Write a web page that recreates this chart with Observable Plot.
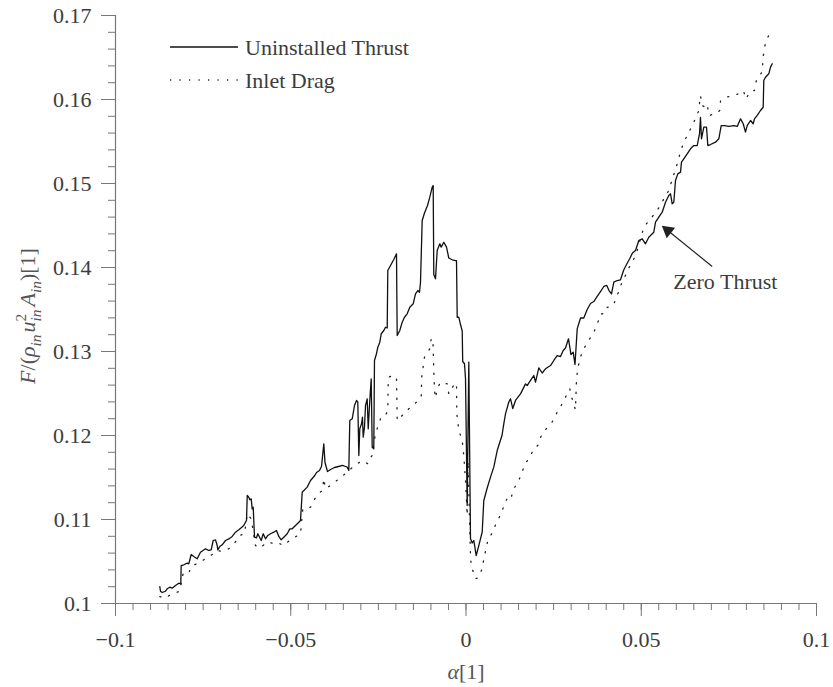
<!DOCTYPE html>
<html><head><meta charset="utf-8">
<script src="https://cdn.jsdelivr.net/npm/d3@7"></script>
<script src="https://cdn.jsdelivr.net/npm/@observablehq/plot@0.6"></script>
<style>
html,body{margin:0;padding:0;background:#fff;}
#chart svg{display:block;}
</style>
</head><body><div id="chart"></div>
<script>
// Uninstalled thrust: [alpha, F/(rho u^2 A)]
const thrustPoints = [
[-0.08736,0.10202],[-0.08716,0.10146],[-0.08668,0.10131],[-0.08573,0.10146],[-0.08525,0.10175],[-0.08451,0.10194],
[-0.08382,0.10182],[-0.08288,0.10214],[-0.08194,0.10242],[-0.08137,0.10235],[-0.08126,0.10452],[-0.08051,0.10461],
[-0.07954,0.10480],[-0.07909,0.10473],[-0.07840,0.10583],[-0.07766,0.10560],[-0.07669,0.10532],[-0.07575,0.10611],
[-0.07432,0.10651],[-0.07338,0.10631],[-0.07270,0.10639],[-0.07213,0.10750],[-0.07147,0.10758],[-0.07098,0.10690],
[-0.07081,0.10639],[-0.07024,0.10679],[-0.06956,0.10699],[-0.06862,0.10750],[-0.06767,0.10770],[-0.06719,0.10782],
[-0.06670,0.10798],[-0.06576,0.10849],[-0.06482,0.10877],[-0.06414,0.10901],[-0.06340,0.10929],[-0.06291,0.10968],
[-0.06262,0.10988],[-0.06242,0.11286],[-0.06197,0.11265],[-0.06168,0.11235],[-0.06128,0.11246],[-0.06100,0.11127],
[-0.06071,0.11146],[-0.06034,0.10789],[-0.05977,0.10782],[-0.05940,0.10830],[-0.05883,0.10782],[-0.05843,0.10750],
[-0.05786,0.10830],[-0.05720,0.10770],[-0.05655,0.10810],[-0.05578,0.10830],[-0.05484,0.10849],[-0.05407,0.10869],
[-0.05341,0.10798],[-0.05273,0.10758],[-0.05198,0.10789],[-0.05101,0.10830],[-0.05027,0.10889],[-0.04959,0.10889],
[-0.04864,0.10929],[-0.04770,0.10968],[-0.04722,0.10988],[-0.04673,0.11325],[-0.04531,0.11385],[-0.04436,0.11464],
[-0.04314,0.11524],[-0.04265,0.11560],[-0.04180,0.11583],[-0.04123,0.11631],[-0.04057,0.11901],[-0.04023,0.11679],
[-0.03952,0.11571],[-0.03866,0.11595],[-0.03752,0.11619],[-0.03638,0.11631],[-0.03524,0.11643],[-0.03438,0.11631],
[-0.03389,0.11623],[-0.03344,0.11583],[-0.03315,0.12179],[-0.03247,0.12199],[-0.03181,0.12357],[-0.03124,0.12417],
[-0.03087,0.12396],[-0.03058,0.11762],[-0.03030,0.12080],[-0.02981,0.12139],[-0.02953,0.12218],[-0.02933,0.11980],
[-0.02896,0.12099],[-0.02867,0.12357],[-0.02819,0.12437],[-0.02790,0.12080],[-0.02745,0.12417],[-0.02705,0.12675],
[-0.02676,0.11861],[-0.02631,0.11842],[-0.02611,0.12893],[-0.02554,0.12973],[-0.02516,0.13051],[-0.02459,0.13111],
[-0.02419,0.13211],[-0.02345,0.13250],[-0.02297,0.13289],[-0.02248,0.13280],[-0.02231,0.13964],[-0.02154,0.14024],
[-0.02060,0.14095],[-0.01983,0.14163],[-0.01963,0.13190],[-0.01889,0.13250],[-0.01820,0.13349],[-0.01755,0.13408],
[-0.01678,0.13449],[-0.01603,0.13527],[-0.01506,0.13568],[-0.01441,0.13687],[-0.01375,0.13726],[-0.01327,0.13706],
[-0.01298,0.13825],[-0.01250,0.14560],[-0.01184,0.14649],[-0.01098,0.14738],[-0.01033,0.14837],[-0.00964,0.14956],
[-0.00936,0.14976],[-0.00919,0.13917],[-0.00870,0.13865],[-0.00822,0.14202],[-0.00747,0.14282],[-0.00708,0.14242],
[-0.00633,0.14301],[-0.00556,0.14242],[-0.00491,0.14113],[-0.00394,0.14092],[-0.00300,0.14083],[-0.00271,0.14083],
[-0.00251,0.13408],[-0.00205,0.13408],[-0.00157,0.13321],[-0.00108,0.13244],[-0.00094,0.12881],[-0.00043,0.12854],
[-0.00014,0.12679],[0.00034,0.11167],[0.00080,0.12873],[0.00128,0.10774],[0.00177,0.10720],[0.00223,0.10750],
[0.00291,0.10571],[0.00365,0.10690],[0.00462,0.10851],[0.00508,0.11226],[0.00605,0.11375],[0.00699,0.11504],
[0.00793,0.11623],[0.00890,0.11821],[0.00964,0.11920],[0.01027,0.12000],[0.01078,0.12139],[0.01127,0.12258],
[0.01221,0.12399],[0.01270,0.12437],[0.01335,0.12321],[0.01412,0.12417],[0.01555,0.12496],[0.01698,0.12615],
[0.01746,0.12595],[0.01840,0.12655],[0.01934,0.12714],[0.01983,0.12635],[0.02077,0.12804],[0.02174,0.12744],
[0.02268,0.12794],[0.02411,0.12833],[0.02505,0.12893],[0.02602,0.12952],[0.02696,0.12940],[0.02773,0.13012],
[0.02839,0.13042],[0.02924,0.13151],[0.02996,0.12964],[0.03058,0.12992],[0.03110,0.12845],[0.03173,0.13270],
[0.03267,0.13399],[0.03361,0.13399],[0.03458,0.13500],[0.03552,0.13571],[0.03646,0.13595],[0.03743,0.13655],
[0.03837,0.13714],[0.03932,0.13774],[0.04017,0.13786],[0.04080,0.13726],[0.04151,0.13685],[0.04217,0.13825],
[0.04314,0.13845],[0.04408,0.13854],[0.04494,0.13964],[0.04579,0.14036],[0.04673,0.14107],[0.04750,0.14173],
[0.04836,0.14202],[0.04930,0.14321],[0.05027,0.14342],[0.05121,0.14282],[0.05215,0.14361],[0.05358,0.14420],
[0.05407,0.14539],[0.05501,0.14599],[0.05598,0.14658],[0.05692,0.14777],[0.05786,0.14857],[0.05835,0.14877],
[0.05883,0.14758],[0.05929,0.14777],[0.05977,0.15036],[0.06043,0.15115],[0.06120,0.15135],[0.06148,0.15254],
[0.06214,0.15294],[0.06311,0.15354],[0.06405,0.15413],[0.06499,0.15452],[0.06596,0.15452],[0.06662,0.15592],
[0.06690,0.15786],[0.06719,0.15532],[0.06785,0.15670],[0.06862,0.15670],[0.06899,0.15452],[0.06976,0.15464],
[0.07118,0.15492],[0.07213,0.15532],[0.07281,0.15690],[0.07375,0.15690],[0.07498,0.15679],[0.07641,0.15690],
[0.07738,0.15679],[0.07832,0.15770],[0.07909,0.15711],[0.07974,0.15611],[0.08023,0.15690],[0.08117,0.15750],
[0.08194,0.15711],[0.08231,0.15770],[0.08308,0.15810],[0.08402,0.15869],[0.08479,0.15908],[0.08496,0.16226],
[0.08545,0.16265],[0.08639,0.16306],[0.08688,0.16385],[0.08736,0.16425]
];

// Inlet drag: [alpha, F/(rho u^2 A)]
const dragPoints = [
[-0.08736,0.10083],[-0.08602,0.10063],[-0.08382,0.10115],[-0.08166,0.10146],[-0.08069,0.10361],[-0.07909,0.10361],
[-0.07840,0.10440],[-0.07595,0.10492],[-0.07384,0.10544],[-0.07241,0.10583],[-0.07098,0.10631],[-0.07004,0.10623],
[-0.06767,0.10651],[-0.06605,0.10718],[-0.06454,0.10810],[-0.06320,0.10830],[-0.06242,0.11068],[-0.06128,0.11008],
[-0.06006,0.10690],[-0.05883,0.10658],[-0.05672,0.10730],[-0.05529,0.10718],[-0.05387,0.10730],[-0.05215,0.10690],
[-0.05007,0.10758],[-0.04913,0.10782],[-0.04722,0.10830],[-0.04656,0.11127],[-0.04436,0.11146],[-0.04314,0.11246],
[-0.04208,0.11310],[-0.04094,0.11345],[-0.04057,0.11488],[-0.04009,0.11369],[-0.03866,0.11405],[-0.03723,0.11452],
[-0.03581,0.11500],[-0.03438,0.11548],[-0.03247,0.11619],[-0.03104,0.11663],[-0.02961,0.11702],[-0.02802,0.11663],
[-0.02745,0.11723],[-0.02676,0.11762],[-0.02631,0.11901],[-0.02582,0.12024],[-0.02439,0.12199],[-0.02325,0.12214],
[-0.02231,0.12298],[-0.02217,0.12690],[-0.02106,0.12714],[-0.01983,0.12690],[-0.01963,0.12179],[-0.01820,0.12238],
[-0.01632,0.12318],[-0.01412,0.12396],[-0.01278,0.12456],[-0.01264,0.12694],[-0.01184,0.12932],[-0.01033,0.13032],
[-0.00993,0.13151],[-0.00947,0.13151],[-0.00936,0.13032],[-0.00919,0.12774],[-0.00899,0.12536],[-0.00870,0.12446],
[-0.00822,0.12556],[-0.00728,0.12635],[-0.00536,0.12615],[-0.00491,0.12496],[-0.00365,0.12589],[-0.00271,0.12625],
[-0.00262,0.12258],[-0.00205,0.12060],[-0.00108,0.11940],[-0.00063,0.11762],[-0.00014,0.11464],[0.00034,0.11048],
[0.00057,0.11702],[0.00128,0.10571],[0.00148,0.10452],[0.00271,0.10294],[0.00348,0.10306],[0.00462,0.10413],
[0.00508,0.10532],[0.00622,0.10750],[0.00776,0.10861],[0.00870,0.10968],[0.01004,0.11068],[0.01098,0.11187],
[0.01221,0.11286],[0.01290,0.11265],[0.01364,0.11365],[0.01506,0.11464],[0.01603,0.11571],[0.01698,0.11670],
[0.01820,0.11742],[0.01934,0.11842],[0.02048,0.11881],[0.02145,0.11994],[0.02288,0.12080],[0.02454,0.12158],
[0.02582,0.12262],[0.02716,0.12357],[0.02839,0.12456],[0.02961,0.12556],[0.03010,0.12464],[0.03067,0.12381],
[0.03124,0.12306],[0.03153,0.12675],[0.03190,0.12794],[0.03247,0.12913],[0.03344,0.13018],[0.03475,0.13119],
[0.03629,0.13214],[0.03743,0.13321],[0.03837,0.13446],[0.03951,0.13452],[0.04028,0.13524],[0.04200,0.13548],
[0.04294,0.13646],[0.04428,0.13798],[0.04536,0.13893],[0.04645,0.13994],[0.04770,0.14083],[0.04884,0.14202],
[0.05073,0.14480],[0.05455,0.14679],[0.05786,0.14917],[0.06026,0.15235],[0.06148,0.15417],[0.06262,0.15532],
[0.06385,0.15631],[0.06499,0.15730],[0.06642,0.15869],[0.06670,0.15988],[0.06690,0.16048],[0.06739,0.15929],
[0.06785,0.15917],[0.06882,0.15949],[0.06927,0.15810],[0.07147,0.15833],[0.07241,0.15869],[0.07261,0.15982],
[0.07432,0.16027],[0.07609,0.16048],[0.07746,0.16063],[0.07917,0.16104],[0.07988,0.16006],[0.08103,0.16095],
[0.08231,0.16107],[0.08288,0.16232],[0.08451,0.16331],[0.08479,0.16512],[0.08545,0.16682],[0.08659,0.16782]
];

const xTickValues = [-0.1, -0.05, 0, 0.05, 0.1];
const yTickValues = [0.1, 0.11, 0.12, 0.13, 0.14, 0.15, 0.16, 0.17];
const xMinorTicks = d3.range(-20, 21).map(i => i * 0.005);
const yMinorTicks = d3.range(50, 86).map(i => i * 0.002);
const seriesNames = ["Uninstalled Thrust", "Inlet Drag"];
const annotationLabel = "Zero Thrust";
const annotationTextAt = [0.0740, 0.13833];
const annotationArrow = [0.07024, 0.14012, 0.05643, 0.14480]; // tail x,y -> head x,y

const thrust = thrustPoints.map(([a, f]) => ({alpha: a, F: f}));
const drag = dragPoints.map(([a, f]) => ({alpha: a, F: f}));

const FS = 22;
const FONT = '"Liberation Serif","Times New Roman",Times,serif';
const AXIS = "#777777";
const TEXT = "#3c3c3c";

const fmtX = d => (d < 0 ? "\u2212" : "") + String(+Math.abs(d).toFixed(3));
const fmtY = d => String(+d.toFixed(3));

const headAngle = -51;

const plot = Plot.plot({
  width: 833,
  height: 687,
  marginLeft: 115,
  marginRight: 17,
  marginTop: 15,
  marginBottom: 84,
  x: {domain: [-0.1, 0.1]},
  y: {domain: [0.1, 0.17]},
  style: {fontFamily: FONT, fontSize: FS + "px", color: TEXT, background: "white", overflow: "visible"},
  marks: [
    Plot.ruleY([0.1], {stroke: AXIS, strokeWidth: 1.2}),
    Plot.ruleX([-0.1], {stroke: AXIS, strokeWidth: 1.2}),
    Plot.axisX(xMinorTicks, {tickSize: 7, fill: "none", stroke: AXIS, label: null}),
    Plot.axisX(xTickValues, {tickSize: 13, tickPadding: 15, stroke: AXIS, fill: TEXT, fontSize: FS, tickFormat: fmtX, label: null}),
    Plot.axisY(yMinorTicks, {tickSize: 7, fill: "none", stroke: AXIS, label: null}),
    Plot.axisY(yTickValues, {tickSize: 14, tickPadding: 10, stroke: AXIS, fill: TEXT, fontSize: FS, tickFormat: fmtY, label: null}),
    Plot.line(drag, {x: "alpha", y: "F", stroke: "#222", strokeWidth: 1.3, strokeDasharray: "1.2,8.3"}),
    Plot.line(thrust, {x: "alpha", y: "F", stroke: "#111", strokeWidth: 1.3}),
    Plot.link([annotationArrow], {x1: d => d[0], y1: d => d[1], x2: d => d[2], y2: d => d[3], stroke: "#222", strokeWidth: 1.2}),
    Plot.dot([annotationArrow], {x: d => d[2] + (d[0] - d[2]) * 0.085, y: d => d[3] + (d[1] - d[3]) * 0.085, symbol: "triangle", rotate: headAngle, r: 5, fill: "#222", stroke: "none"}),
    Plot.text([annotationTextAt], {x: d => d[0], y: d => d[1], text: () => annotationLabel, fontSize: FS, fill: TEXT, fontFamily: FONT})
  ]
});

const svg = d3.select(plot);

// y axis label
const yl = svg.append("text")
  .attr("transform", "translate(35,316) rotate(-90)")
  .attr("text-anchor", "middle")
  .attr("fill", "#555")
  .style("font-family", FONT)
  .style("font-size", FS + "px");
const sub = FS * 0.7;
yl.append("tspan").attr("font-style", "italic").text("F");
yl.append("tspan").text("/(");
yl.append("tspan").attr("font-style", "italic").text("\u03C1");
yl.append("tspan").attr("font-style", "italic").attr("font-size", sub).attr("dy", 6).text("in");
yl.append("tspan").attr("font-style", "italic").attr("dy", -6).attr("dx", 2).text("u");
yl.append("tspan").attr("font-size", sub).attr("dy", -9).text("2");
yl.append("tspan").attr("font-style", "italic").attr("font-size", sub).attr("dx", -7.7).attr("dy", 15).text("in");
yl.append("tspan").attr("font-style", "italic").attr("dy", -6).attr("dx", 3).text("A");
yl.append("tspan").attr("font-style", "italic").attr("font-size", sub).attr("dy", 6).text("in");
yl.append("tspan").attr("dy", -6).text(")[1]");

// x axis label
const xl = svg.append("text")
  .attr("x", 466).attr("y", 679)
  .attr("text-anchor", "middle")
  .attr("fill", "#555")
  .style("font-family", FONT)
  .style("font-size", FS + "px");
xl.append("tspan").attr("font-style", "italic").text("\u03B1");
xl.append("tspan").text("[1]");

// legend
const lg = svg.append("g").attr("text-anchor", "start").style("font-family", FONT).style("font-size", FS + "px");
lg.append("line").attr("x1", 170).attr("x2", 238).attr("y1", 47).attr("y2", 47).attr("stroke", "#111").attr("stroke-width", 1.3);
lg.append("line").attr("x1", 170).attr("x2", 238).attr("y1", 80).attr("y2", 80).attr("stroke", "#222").attr("stroke-width", 1.3).attr("stroke-dasharray", "1.2,8.3");
lg.append("text").attr("x", 245).attr("y", 47).attr("dy", "0.35em").attr("text-anchor", "start").attr("fill", TEXT).text(seriesNames[0]);
lg.append("text").attr("x", 245).attr("y", 80).attr("dy", "0.35em").attr("text-anchor", "start").attr("fill", TEXT).text(seriesNames[1]);

document.getElementById("chart").appendChild(plot);
</script>
</body></html>
